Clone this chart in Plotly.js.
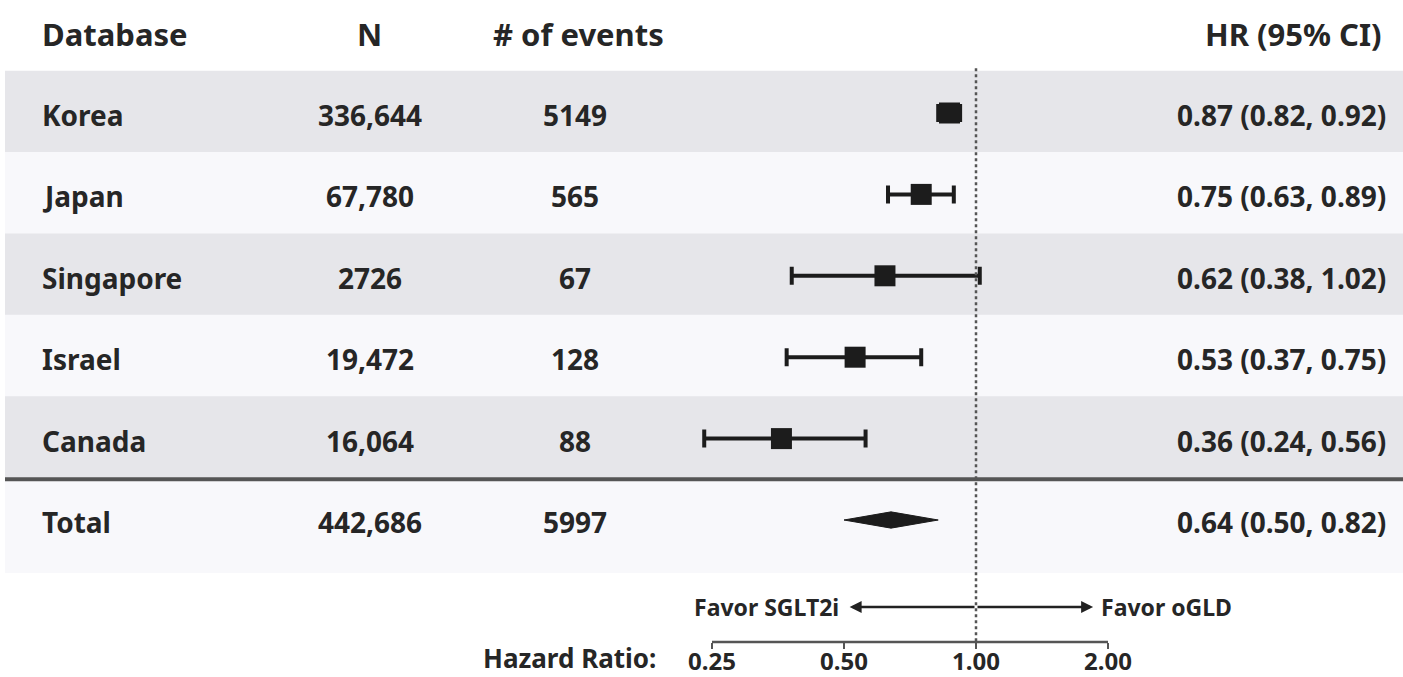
<!DOCTYPE html>
<html>
<head>
<meta charset="utf-8">
<script src="https://cdn.plot.ly/plotly-3.0.1.min.js"></script>
<style>html,body{margin:0;padding:0;background:#fff;}#chart{width:1403px;height:677px;}</style>
</head>
<body>
<div id="chart"></div>
<script>
// ---- data ----
const databases = ['Korea', 'Japan', 'Singapore', 'Israel', 'Canada'];
const nValues = ['336,644', '67,780', '2726', '19,472', '16,064'];
const eventCounts = ['5149', '565', '67', '128', '88'];
const hrValues = [0.87, 0.75, 0.62, 0.53, 0.36];
const ciLower = [0.82, 0.63, 0.38, 0.37, 0.24];
const ciUpper = [0.92, 0.89, 1.02, 0.75, 0.56];
const totalLabel = 'Total';
const totalN = '442,686';
const totalEvents = '5997';
const totalHR = 0.64;
const totalLower = 0.50;
const totalUpper = 0.82;
const headers = ['Database', 'N', '# of events', 'HR (95% CI)'];
const tickVals = [0.25, 0.5, 1, 2];
const tickText = ['0.25', '0.50', '1.00', '2.00'];
const favorLeft = 'Favor SGLT2i';
const favorRight = 'Favor oGLD';
const axisLabel = 'Hazard Ratio:';

// ---- layout helpers ----
const W = 1403, H = 677;
const FONT = 'Noto Sans, Open Sans, sans-serif';
const TXT = '#262626';
const py = px => 1 - px / H;          // pixel y -> paper y
const pxX = px => px / W;             // pixel x -> paper x
const fmt = v => v.toFixed(2);
const rowsY = databases.map((_, i) => i);
const totalY = databases.length;

// x: pixel = 976 + 132*log2(HR)
const x0px = 976, perDouble = 132;
const xr0 = Math.log10(Math.pow(2, (0 - x0px) / perDouble));
const xr1 = Math.log10(Math.pow(2, (W - x0px) / perDouble));
// y: pixel = 113 + 81.4*i ; y axis domain bottom at axisPx
const yc0 = 113, rowH = 81.4, axisPx = 642;
const yTopVal = (0 - yc0) / rowH;
const yBotVal = (axisPx - yc0) / rowH;

const traces = [
  {
    type: 'scatter', mode: 'markers',
    x: hrValues, y: rowsY,
    marker: {symbol: 'square', size: 21, color: '#1c1c1c'},
    error_x: {
      type: 'data', symmetric: false,
      array: hrValues.map((v, i) => ciUpper[i] - v),
      arrayminus: hrValues.map((v, i) => v - ciLower[i]),
      color: '#1c1c1c', thickness: 4, width: 9
    },
    cliponaxis: false, hoverinfo: 'skip', showlegend: false
  },
  {
    type: 'scatter', mode: 'lines', fill: 'toself',
    x: [totalLower, totalHR, totalUpper, totalHR, totalLower],
    y: [totalY, totalY - 0.1, totalY, totalY + 0.1, totalY],
    line: {color: '#1c1c1c', width: 1}, fillcolor: '#1c1c1c',
    hoverinfo: 'skip', showlegend: false
  }
];

const shapes = [];
// row bands
rowsY.forEach(i => {
  shapes.push({type: 'rect', layer: 'below', xref: 'paper', yref: 'y',
    x0: pxX(5), x1: 1, y0: i - 0.52, y1: i + 0.5,
    fillcolor: i % 2 === 0 ? '#e6e6ea' : '#f8f8fb', line: {width: 0}});
});
shapes.push({type: 'rect', layer: 'below', xref: 'paper', yref: 'y',
  x0: pxX(5), x1: 1, y0: totalY - 0.5, y1: totalY + 0.65,
  fillcolor: '#f8f8fb', line: {width: 0}});
// thick separator
shapes.push({type: 'line', xref: 'paper', yref: 'y', x0: pxX(5), x1: 1,
  y0: totalY - 0.5, y1: totalY - 0.5, line: {color: '#555555', width: 4}});
// reference line at HR = 1
shapes.push({type: 'line', xref: 'x', yref: 'y', x0: 1, x1: 1,
  y0: -0.55, y1: yBotVal, line: {color: '#555555', width: 2.5, dash: 'dot'}});
// axis line between first and last tick
shapes.push({type: 'line', xref: 'x', yref: 'paper',
  x0: tickVals[0], x1: tickVals[tickVals.length - 1], y0: py(axisPx), y1: py(axisPx),
  line: {color: '#555555', width: 2.5}});

const ann = [];
const addText = (text, xpx, ypx, anchor, size) => ann.push({
  text, xref: 'paper', yref: 'paper', x: pxX(xpx), y: py(ypx),
  xanchor: anchor, yanchor: 'middle', showarrow: false,
  font: {family: FONT, size, color: TXT, weight: 'bold'}
});
// headers
addText(headers[0], 40, 34, 'left', 31);
addText(headers[1], 370, 34, 'center', 31);
addText(headers[2], 578, 34, 'center', 31);
addText(headers[3], 1384, 34, 'right', 31);
// rows
const rowPx = i => yc0 + 2 + rowH * i;
databases.forEach((d, i) => {
  addText(d, 40, rowPx(i), 'left', 28);
  addText(nValues[i], 370, rowPx(i), 'center', 28);
  addText(eventCounts[i], 575, rowPx(i), 'center', 28);
  addText(fmt(hrValues[i]) + ' (' + fmt(ciLower[i]) + ', ' + fmt(ciUpper[i]) + ')', 1388, rowPx(i), 'right', 28);
});
addText(totalLabel, 40, rowPx(totalY), 'left', 28);
addText(totalN, 370, rowPx(totalY), 'center', 28);
addText(totalEvents, 575, rowPx(totalY), 'center', 28);
addText(fmt(totalHR) + ' (' + fmt(totalLower) + ', ' + fmt(totalUpper) + ')', 1388, rowPx(totalY), 'right', 28);
// axis label
addText(axisLabel, 658, 658, 'right', 26);
// favor labels + arrows
ann.push({text: favorLeft, xref: 'paper', yref: 'paper', x: pxX(841), y: py(607),
  xanchor: 'right', yanchor: 'middle', showarrow: false,
  font: {family: FONT, size: 23, color: TXT, weight: 'bold'}});
ann.push({text: favorRight, xref: 'paper', yref: 'paper', x: pxX(1099), y: py(607),
  xanchor: 'left', yanchor: 'middle', showarrow: false,
  font: {family: FONT, size: 23, color: TXT, weight: 'bold'}});
const arrowY = py(607);
[0.515, 1.85].forEach(tip => ann.push({
  text: '', xref: 'x', yref: 'paper', x: Math.log10(tip), y: arrowY,
  axref: 'x', ayref: 'paper', ax: 0, ay: arrowY,
  showarrow: true, arrowhead: 2, arrowsize: 1, arrowwidth: 2.4, arrowcolor: '#222222',
  standoff: 0, startstandoff: 0
}));

const layout = {
  width: W, height: H,
  margin: {l: 0, r: 0, t: 0, b: 0},
  paper_bgcolor: '#ffffff', plot_bgcolor: 'rgba(0,0,0,0)',
  showlegend: false,
  xaxis: {type: 'log', range: [xr0, xr1], domain: [0, 1],
    showgrid: false, zeroline: false, showline: false,
    tickmode: 'array', tickvals: tickVals, ticktext: tickText,
    ticks: 'outside', ticklen: 6, tickwidth: 2.5, tickcolor: '#555555',
    ticklabelstandoff: -8,
    tickfont: {family: FONT, size: 24, color: TXT, weight: 'bold'},
    fixedrange: true},
  yaxis: {range: [yBotVal, yTopVal], domain: [py(axisPx), 1],
    showgrid: false, zeroline: false, showline: false, showticklabels: false,
    ticks: '', fixedrange: true},
  shapes, annotations: ann
};

Plotly.newPlot('chart', traces, layout, {displayModeBar: false, staticPlot: true});
</script>
</body>
</html>
